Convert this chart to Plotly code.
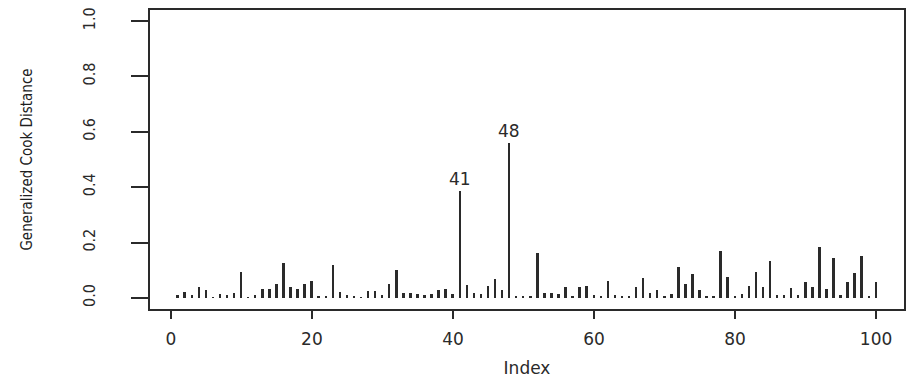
import plotly.graph_objects as go

index = list(range(1, 101))
cook_distance = [
    0.010, 0.022, 0.010, 0.038, 0.028, 0.003, 0.014, 0.012, 0.018, 0.094,
    0.003, 0.012, 0.031, 0.034, 0.052, 0.126, 0.040, 0.034, 0.050, 0.061,
    0.004, 0.007, 0.119, 0.022, 0.012, 0.007, 0.003, 0.024, 0.024, 0.010,
    0.052, 0.100, 0.019, 0.019, 0.014, 0.010, 0.014, 0.028, 0.034, 0.014,
    0.385, 0.046, 0.019, 0.014, 0.042, 0.067, 0.028, 0.560, 0.004, 0.004,
    0.004, 0.161, 0.019, 0.017, 0.014, 0.038, 0.007, 0.038, 0.042, 0.010,
    0.007, 0.061, 0.010, 0.006, 0.007, 0.040, 0.071, 0.019, 0.030, 0.007,
    0.014, 0.112, 0.049, 0.088, 0.028, 0.007, 0.007, 0.168, 0.074, 0.007,
    0.014, 0.042, 0.094, 0.040, 0.134, 0.010, 0.012, 0.036, 0.010, 0.059,
    0.040, 0.185, 0.034, 0.143, 0.012, 0.059, 0.091, 0.151, 0.004, 0.059,
]
labelled_points = [41, 48]

x_ticks = [0, 20, 40, 60, 80, 100]
y_ticks = [0.0, 0.2, 0.4, 0.6, 0.8, 1.0]
y_tick_text = ["0.0", "0.2", "0.4", "0.6", "0.8", "1.0"]

ink = "#2a2a2a"
narrow = "Liberation Sans Narrow, DejaVu Sans Condensed, Arial Narrow, sans-serif"
wide = "DejaVu Sans, Verdana, sans-serif"

fig = go.Figure()
fig.add_trace(go.Bar(
    x=index, y=cook_distance, width=0.28,
    marker=dict(color=ink, line=dict(width=0)),
    hoverinfo="x+y", showlegend=False,
))

for p in labelled_points:
    fig.add_annotation(
        x=p, y=cook_distance[p - 1], text=str(p),
        showarrow=False, yanchor="bottom", yshift=0,
        font=dict(family=wide, size=17, color=ink),
    )

fig.update_layout(
    width=907, height=381,
    margin=dict(l=150, r=1, t=10, b=72),
    paper_bgcolor="white", plot_bgcolor="white",
    bargap=0,
    xaxis=dict(
        range=[-2.96, 103.96], tickvals=x_ticks,
        ticks="outside", ticklen=8, tickwidth=1.5, tickcolor=ink,
        showline=True, mirror=True, linecolor=ink, linewidth=1.5,
        showgrid=False, zeroline=False,
        tickfont=dict(family=wide, size=17, color=ink),
        ticklabelstandoff=6,
        title=dict(text="Index", font=dict(family=wide, size=17, color=ink), standoff=14),
    ),
    yaxis=dict(
        range=[-0.04, 1.04], tickvals=y_ticks, ticktext=y_tick_text,
        tickangle=-90,
        ticks="outside", ticklen=17, tickwidth=1.5, tickcolor=ink,
        showline=True, mirror=True, linecolor=ink, linewidth=1.5,
        showgrid=False, zeroline=False,
        tickfont=dict(family=narrow, size=16, color=ink),
        ticklabelstandoff=30,
        title=dict(text="Generalized Cook Distance", font=dict(family=narrow, size=15, color="#1e1e1e"), standoff=44),
    ),
)

fig.write_html("out.html")
